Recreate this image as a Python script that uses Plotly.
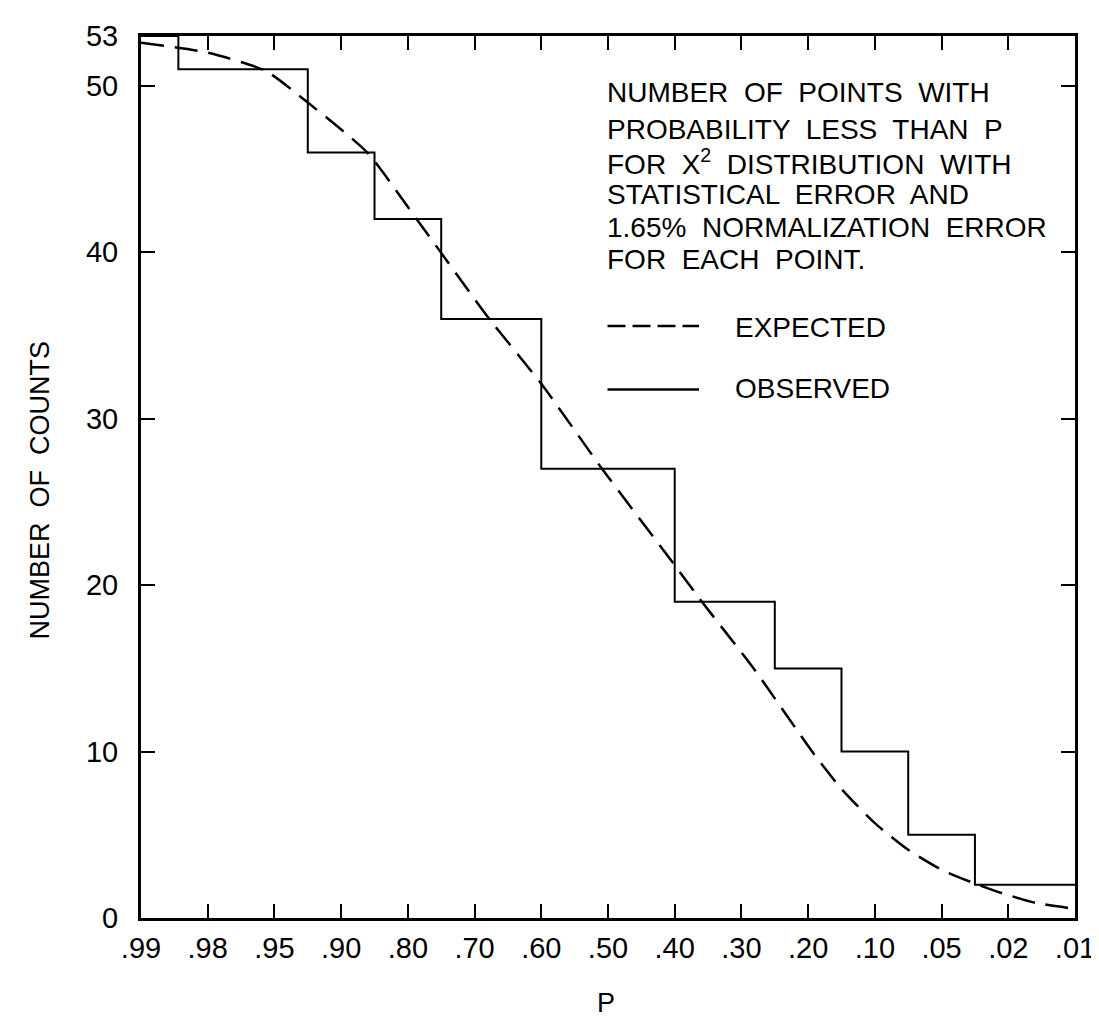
import plotly.graph_objects as go

# Tick labels of the probability axis (equally spaced positions)
p_labels = [".99", ".98", ".95", ".90", ".80", ".70", ".60", ".50",
            ".40", ".30", ".20", ".10", ".05", ".02", ".01"]
p_positions = list(range(len(p_labels)))

# Observed histogram: step edges (in axis position units) and counts
step_edges = [0, 0.56, 2.5, 3.5, 4.5, 6, 8, 9.5, 10.5, 11.5, 12.5, 14]
observed = [53, 51, 46, 42, 36, 27, 19, 15, 10, 5, 2]

# Expected curve
exp_x = [0, 1.0, 1.87, 2.5, 3.39, 4.13, 4.53, 5.22, 6.0, 6.91, 8.0, 8.37,
         9.2, 10.06, 10.49, 11.0, 11.5, 12.0, 12.48, 12.9, 13.42, 14]
exp_y = [52.6, 52.0, 50.9, 49.0, 46.0, 42.0, 39.8, 36.0, 32.1, 27.0, 21.2,
         19.2, 14.9, 10.0, 7.8, 5.7, 4.1, 2.9, 2.1, 1.5, 0.9, 0.55]

y_ticks = [0, 10, 20, 30, 40, 50, 53]

text_lines = ["NUMBER  OF  POINTS  WITH",
              "PROBABILITY  LESS  THAN  P",
              "FOR  X<sup>2</sup>  DISTRIBUTION  WITH",
              "STATISTICAL  ERROR  AND",
              "1.65%  NORMALIZATION  ERROR",
              "FOR  EACH  POINT."]

FONT = "Liberation Sans, Arial, sans-serif"

fig = go.Figure()
fig.add_trace(go.Scatter(
    x=exp_x, y=exp_y, mode="lines",
    line=dict(color="black", width=2.5, dash="23px,11px", shape="spline", smoothing=0.6),
    showlegend=False, hoverinfo="skip"))
fig.add_trace(go.Scatter(
    x=step_edges, y=observed + [observed[-1]], mode="lines",
    line=dict(color="black", width=2, shape="hv"),
    showlegend=False, hoverinfo="skip"))

W, H = 1099, 1019
ml, mr, mt, mb = 133, 17, 22, 109
pw, ph = W - ml - mr, H - mt - mb

def px(xp):
    return (xp - ml) / pw

def py(yp):
    return (H - mb - yp) / ph

TXT = 28
annotations = []
line_y = [79, 116, 149, 182, 215, 247]
for t, yy in zip(text_lines, line_y):
    annotations.append(dict(xref="paper", yref="paper", x=px(604), y=py(yy),
                            xanchor="left", yanchor="middle", text=t, showarrow=False,
                            font=dict(size=TXT, color="black", family=FONT)))
annotations.append(dict(xref="paper", yref="paper", x=px(734), y=py(315),
                        xanchor="left", yanchor="middle", text="EXPECTED", showarrow=False,
                        font=dict(size=TXT, color="black", family=FONT)))
annotations.append(dict(xref="paper", yref="paper", x=px(734), y=py(377),
                        xanchor="left", yanchor="middle", text="OBSERVED", showarrow=False,
                        font=dict(size=TXT, color="black", family=FONT)))
annotations.append(dict(xref="paper", yref="paper", x=px(30), y=py(479),
                        xanchor="center", yanchor="middle", text="NUMBER  OF  COUNTS",
                        textangle=-90, showarrow=False,
                        font=dict(size=27, color="black", family=FONT)))
annotations.append(dict(xref="paper", yref="paper", x=px(605), y=py(996),
                        xanchor="center", yanchor="middle", text="P", showarrow=False,
                        font=dict(size=27, color="black", family=FONT)))

shapes = [
    dict(type="line", xref="paper", yref="paper", x0=px(607), x1=px(700),
         y0=py(314), y1=py(314), line=dict(color="black", width=2.5, dash="18px,7px")),
    dict(type="line", xref="paper", yref="paper", x0=px(607), x1=px(700),
         y0=py(378), y1=py(378), line=dict(color="black", width=2.5)),
]

fig.update_layout(
    width=W, height=H,
    margin=dict(l=ml, r=mr, t=mt, b=mb, pad=0),
    plot_bgcolor="white", paper_bgcolor="white",
    font=dict(family=FONT, color="black"),
    annotations=annotations, shapes=shapes,
    xaxis=dict(range=[0, 14], tickvals=p_positions, ticktext=p_labels,
               ticks="inside", ticklen=14, tickwidth=2, tickcolor="black",
               showline=True, linewidth=3, linecolor="black", mirror="ticks",
               showgrid=False, zeroline=False, ticklabelstandoff=2,
               ticklabeloverflow="allow",
               tickfont=dict(size=29, color="black", family=FONT)),
    yaxis=dict(range=[0, 53], tickvals=y_ticks, ticktext=[str(v) for v in y_ticks],
               ticks="inside", ticklen=14, tickwidth=2, tickcolor="black",
               showline=True, linewidth=3, linecolor="black", mirror="ticks",
               showgrid=False, zeroline=False, ticklabelstandoff=14,
               ticklabeloverflow="allow",
               tickfont=dict(size=29, color="black", family=FONT)),
)

fig.write_html("out.html")
